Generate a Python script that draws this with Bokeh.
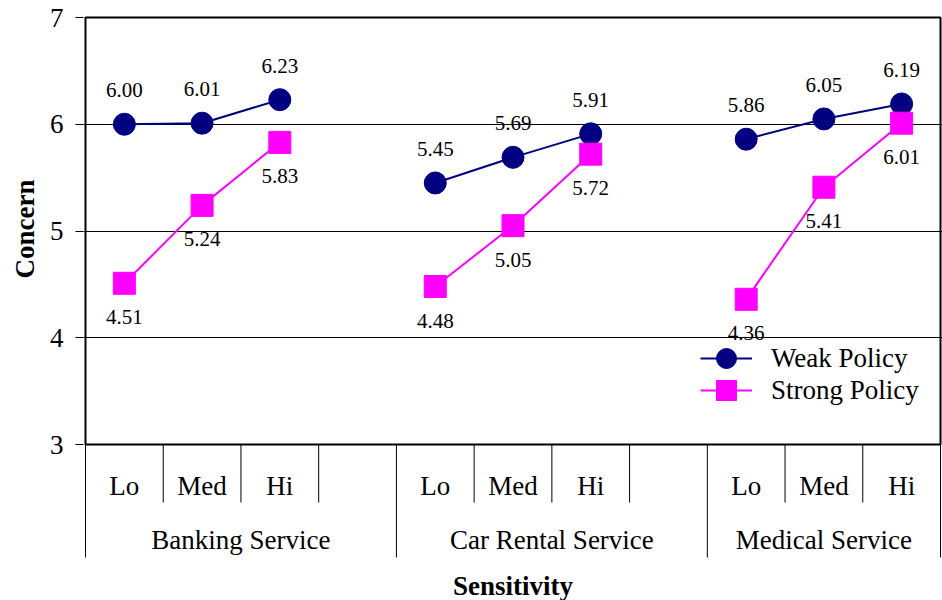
from bokeh.plotting import figure
from bokeh.models import Range1d, FixedTicker, Legend, LegendItem, BoxAnnotation, Title
from bokeh.core.properties import value
from bokeh.embed import file_html
from bokeh.resources import INLINE

# ---- data ----
groups = ["Banking Service", "Car Rental Service", "Medical Service"]
levels = ["Lo", "Med", "Hi"]
weak = [6.00, 6.01, 6.23, 5.45, 5.69, 5.91, 5.86, 6.05, 6.19]
strong = [4.51, 5.24, 5.83, 4.48, 5.05, 5.72, 4.36, 5.41, 6.01]
series_names = ["Weak Policy", "Strong Policy"]
y_ticks = [3, 4, 5, 6, 7]
grid_ticks = [4, 5, 6]
y_title = "Concern"
x_title = "Sensitivity"

FONT = "Liberation Serif"
NAVY = "#000080"
MAGENTA = "#FF00FF"
SLOTS_PER_GROUP = 4
N_SLOTS = SLOTS_PER_GROUP * (len(groups) - 1) + len(levels)
Y_MIN, Y_MAX = y_ticks[0], y_ticks[-1]

# ---- geometry (pixels) ----
W, H = 942, 600
PLOT_TOP, PLOT_BOTTOM = 17, 444
PLOT_LEFT, PLOT_RIGHT = 85, 940
PAD = 2
PX = (PLOT_BOTTOM - PLOT_TOP) / (Y_MAX - Y_MIN)          # px per y unit
SX = (PLOT_RIGHT - PLOT_LEFT) / N_SLOTS                   # px per slot
y_start = Y_MIN - (H - PLOT_BOTTOM) / PX
y_end = Y_MAX + PAD / PX
x_start = -PAD / SX
x_end = N_SLOTS + PAD / SX

xs = [g * SLOTS_PER_GROUP + l + 0.5 for g in range(len(groups)) for l in range(len(levels))]

p = figure(width=W, height=H, x_range=Range1d(x_start, x_end), y_range=Range1d(y_start, y_end),
           output_backend="svg", toolbar_location=None, x_axis_location=None,
           min_border_left=PLOT_LEFT - PAD, min_border_right=W - PLOT_RIGHT - PAD,
           min_border_top=PLOT_TOP - PAD, min_border_bottom=0)
p.title.visible = False
p.outline_line_color = None
p.background_fill_color = "white"
p.border_fill_color = "white"

yax = p.yaxis[0]
yax.bounds = (Y_MIN, Y_MAX)
yax.ticker = FixedTicker(ticks=y_ticks)
yax.minor_tick_line_color = None
yax.major_tick_in = 0
yax.major_tick_out = 8
yax.major_tick_line_color = "black"
yax.axis_line_color = None
yax.major_label_text_font = FONT
yax.major_label_text_font_size = "27px"
yax.major_label_text_color = "black"
yax.major_label_standoff = 12

# y-axis title, centred on the 3..7 span rather than on the whole frame
TITLE_LEN = 95
ytitle = Title(text=y_title, align="left",
               offset=H - ((PLOT_TOP + PLOT_BOTTOM) / 2 + TITLE_LEN / 2),
               text_font=FONT, text_font_size="27px", text_font_style="bold",
               text_color="black", standoff=13)
p.add_layout(ytitle, "left")

p.xgrid.visible = False
p.ygrid.ticker = FixedTicker(ticks=grid_ticks)
p.ygrid.grid_line_color = "black"
p.ygrid.grid_line_width = 1

p.add_layout(BoxAnnotation(left=0, right=N_SLOTS, bottom=Y_MIN, top=Y_MAX,
                           fill_alpha=0, line_color="black", line_alpha=1.0, line_width=2))

# ---- series ----
weak_lines, strong_lines = [], []
for g in range(len(groups)):
    sl = slice(g * len(levels), (g + 1) * len(levels))
    weak_lines.append(p.line(xs[sl], weak[sl], line_color=NAVY, line_width=2))
    strong_lines.append(p.line(xs[sl], strong[sl], line_color=MAGENTA, line_width=2))

weak_pts = p.scatter(xs, weak, marker="circle", size=22, fill_color=NAVY, line_color=NAVY)
strong_pts = p.scatter(xs, strong, marker="square", size=22, fill_color=MAGENTA, line_color=MAGENTA)

p.text(xs, weak, text=[f"{v:.2f}" for v in weak], y_offset=-34,
       text_align="center", text_baseline="middle", text_font=value(FONT),
       text_font_size="21px", text_color="black")
p.text(xs, strong, text=[f"{v:.2f}" for v in strong], y_offset=34,
       text_align="center", text_baseline="middle", text_font=value(FONT),
       text_font_size="21px", text_color="black")

# ---- legend: one legend per entry so markers keep their size ----
def make_legend(label, renderers, center_y):
    lg = Legend(items=[LegendItem(label=label, renderers=renderers)],
                location=(700 - (PLOT_LEFT - PAD), H - (center_y + 25)))
    lg.padding = 0
    lg.margin = 0
    lg.spacing = 0
    lg.glyph_width = 52
    lg.glyph_height = 50
    lg.label_height = 50
    lg.label_standoff = 19
    lg.label_text_font = FONT
    lg.label_text_font_size = "27px"
    lg.label_text_color = "black"
    lg.border_line_color = None
    lg.background_fill_alpha = 0
    return lg

p.add_layout(make_legend(series_names[0], [weak_lines[0], weak_pts], 358))
p.add_layout(make_legend(series_names[1], [strong_lines[0], strong_pts], 390))

# ---- category axis ----
long_b = [g * SLOTS_PER_GROUP for g in range(len(groups))] + [N_SLOTS]
short_b = []
for g in range(len(groups)):
    for k in range(1, SLOTS_PER_GROUP):
        b = g * SLOTS_PER_GROUP + k
        if b < N_SLOTS and b not in long_b:
            short_b.append(b)

short_end = Y_MIN - 58 / PX
long_end = Y_MIN - 113 / PX
p.segment(x0=short_b, y0=[Y_MIN] * len(short_b), x1=short_b, y1=[short_end] * len(short_b),
          line_color="black", line_width=1)
p.segment(x0=long_b, y0=[Y_MIN] * len(long_b), x1=long_b, y1=[long_end] * len(long_b),
          line_color="black", line_width=1)

p.text(xs, [Y_MIN] * len(xs), text=levels * len(groups), y_offset=41, text_align="center",
       text_baseline="middle", text_font=value(FONT), text_font_size="27px", text_color="black")

group_centers = [(long_b[i] + long_b[i + 1]) / 2 for i in range(len(groups))]
p.text(group_centers, [Y_MIN] * len(groups), text=groups, y_offset=95, text_align="center",
       text_baseline="middle", text_font=value(FONT), text_font_size="27px", text_color="black")

p.text([N_SLOTS / 2], [Y_MIN], text=[x_title], y_offset=141, text_align="center",
       text_baseline="middle", text_font=value(FONT), text_font_size="27px",
       text_font_style="bold", text_color="black")

open("out.html", "w").write(file_html(p, INLINE))
